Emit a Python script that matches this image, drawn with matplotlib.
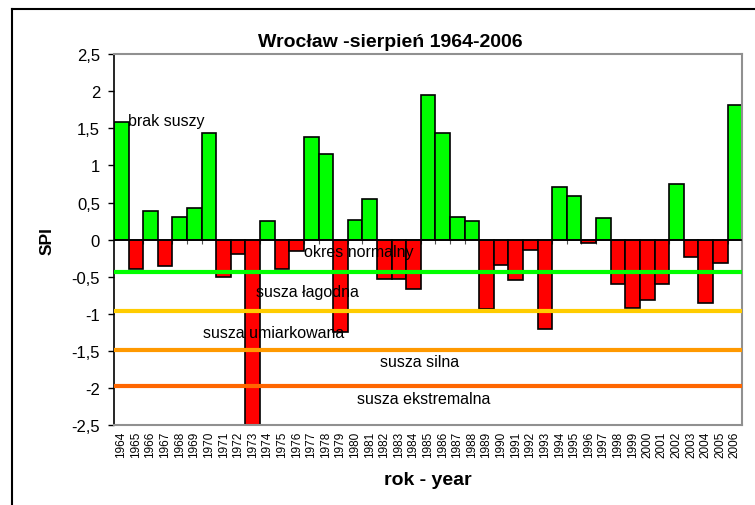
import matplotlib
matplotlib.use("Agg")
import matplotlib.pyplot as plt
import numpy as np
from matplotlib.lines import Line2D
from matplotlib.ticker import FuncFormatter

# SPI values for August, Wroclaw station
years = list(range(1964, 2007))
spi = [1.58, -0.40, 0.385, -0.36, 0.31, 0.43, 1.44, -0.51, -0.19, -2.90,
       0.25, -0.39, -0.16, 1.38, 1.15, -1.25, 0.27, 0.55, -0.535, -0.535,
       -0.67, 1.95, 1.44, 0.31, 0.25, -0.93, -0.34, -0.55, -0.14, -1.20,
       0.71, 0.59, -0.05, 0.29, -0.60, -0.92, -0.81, -0.60, 0.755, -0.24,
       -0.855, -0.31, 1.81]

# drought class thresholds (as drawn on the original sheet)
threshold_values = [-0.43, -0.96, -1.49, -1.98]
threshold_colors = ['#00ff00', '#ffcc00', '#ff9900', '#ff6600']

# class labels: (text, x index, y)
class_labels = [
    ("brak suszy", 0.45, 1.61),
    ("okres normalny", 12.5, -0.16),
    ("susza łagodna", 9.2, -0.70),
    ("susza umiarkowana", 5.6, -1.25),
    ("susza silna", 17.7, -1.65),
    ("susza ekstremalna", 16.1, -2.14),
]

plt.rcParams['font.family'] = ['Liberation Sans', 'DejaVu Sans']


def comma_fmt(v, pos):
    s = f"{v:g}".replace('.', ',')
    return '0' if s == '-0' else s


def plot_spi():
    fig = plt.figure(figsize=(7.55, 5.06), dpi=100)
    ax = fig.add_axes([0.151, 0.158, 0.832, 0.733])

    x = np.arange(len(years))
    colors = ['#00ff00' if v >= 0 else '#ff0000' for v in spi]
    ax.bar(x, spi, width=1.0, color=colors, edgecolor='black', linewidth=1.2, zorder=2)

    # category ticks sit on the zero line (Excel style)
    ax.vlines(x[:-1] + 0.5, -0.06, 0, color='#555555', linewidth=0.8, zorder=1)
    ax.axhline(0, color='black', linewidth=1.2, zorder=3)

    for val, col in zip(threshold_values, threshold_colors):
        ax.axhline(val, color=col, linewidth=3, zorder=4)

    for txt, tx, ty in class_labels:
        ax.text(tx, ty, txt, fontsize=11.5, ha='left', va='center', zorder=5)

    ax.set_xlim(-0.5, len(years) - 0.5)
    ax.set_ylim(-2.5, 2.5)
    ax.set_yticks(np.arange(-2.5, 2.51, 0.5))
    ax.yaxis.set_major_formatter(FuncFormatter(comma_fmt))
    ax.tick_params(axis='y', labelsize=12, length=4, width=1, direction='out', pad=6)

    ax.set_xticks(x)
    ax.set_xticklabels([str(y) for y in years], rotation=90, fontsize=8.5)
    ax.tick_params(axis='x', length=0, pad=4)

    # title is centred on the whole chart area, not on the plot box
    fig.text(390 / 755, 1 - 47 / 506, "Wrocław -sierpień 1964-2006", fontsize=14,
             fontweight='bold', ha='center', va='baseline')
    ax.set_ylabel("SPI", fontsize=12.5, fontweight='bold', labelpad=12)
    ax.set_xlabel("rok - year", fontsize=14, fontweight='bold', labelpad=10)

    for side in ['top', 'right', 'bottom']:
        ax.spines[side].set_color('#909090')
        ax.spines[side].set_linewidth(1.5)
    ax.spines['left'].set_color('black')
    ax.spines['left'].set_linewidth(1.2)

    # chart-area frame (only top/left visible in the crop)
    fig.add_artist(Line2D([12 / 755, 1.0], [1 - 10 / 506, 1 - 10 / 506],
                          transform=fig.transFigure, color='black', linewidth=1.5))
    fig.add_artist(Line2D([12 / 755, 12 / 755], [0, 1 - 10 / 506],
                          transform=fig.transFigure, color='black', linewidth=1.5))
    return fig


fig = plot_spi()
fig.savefig("out.png", dpi=100)
